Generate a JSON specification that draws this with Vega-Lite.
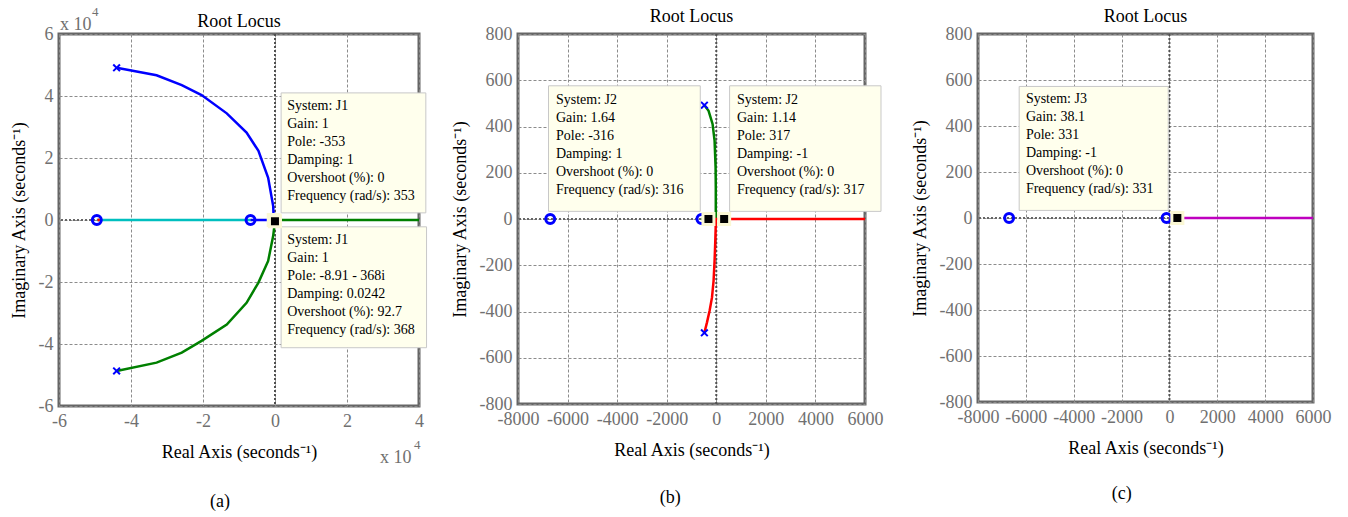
{
  "$schema": "https://vega.github.io/schema/vega-lite/v6.json",
  "padding": {"left": 8, "top": 4, "right": 0, "bottom": 0},
  "background": "#ffffff",
  "datasets": {
    "lociA": [
      {"branch": "J1 upper", "seq": 0, "re": -44000, "im": 49100},
      {"branch": "J1 upper", "seq": 1, "re": -32900, "im": 46700},
      {"branch": "J1 upper", "seq": 2, "re": -25900, "im": 43500},
      {"branch": "J1 upper", "seq": 3, "re": -20400, "im": 40300},
      {"branch": "J1 upper", "seq": 4, "re": -13400, "im": 34400},
      {"branch": "J1 upper", "seq": 5, "re": -7900, "im": 28200},
      {"branch": "J1 upper", "seq": 6, "re": -4600, "im": 22300},
      {"branch": "J1 upper", "seq": 7, "re": -1900, "im": 13600},
      {"branch": "J1 upper", "seq": 8, "re": -500, "im": 4500},
      {"branch": "J1 upper", "seq": 9, "re": -353, "im": 0},
      {"branch": "J1 upper", "seq": 10, "re": -6800, "im": 0},
      {"branch": "J1 lower", "seq": 0, "re": -44000, "im": -48700},
      {"branch": "J1 lower", "seq": 1, "re": -32900, "im": -46000},
      {"branch": "J1 lower", "seq": 2, "re": -25900, "im": -42800},
      {"branch": "J1 lower", "seq": 3, "re": -20400, "im": -39000},
      {"branch": "J1 lower", "seq": 4, "re": -13400, "im": -33700},
      {"branch": "J1 lower", "seq": 5, "re": -7900, "im": -26700},
      {"branch": "J1 lower", "seq": 6, "re": -4600, "im": -20200},
      {"branch": "J1 lower", "seq": 7, "re": -1900, "im": -13200},
      {"branch": "J1 lower", "seq": 8, "re": -500, "im": -5100},
      {"branch": "J1 lower", "seq": 9, "re": -8.91, "im": -368},
      {"branch": "J1 lower", "seq": 10, "re": 0, "im": 0},
      {"branch": "J1 lower", "seq": 11, "re": 40000, "im": 0},
      {"branch": "J1 real", "seq": 0, "re": -49500, "im": 0},
      {"branch": "J1 real", "seq": 1, "re": -6800, "im": 0}
    ],
    "lociB": [
      {"branch": "J2 upper", "seq": 0, "re": -480, "im": 492},
      {"branch": "J2 upper", "seq": 1, "re": -311, "im": 468},
      {"branch": "J2 upper", "seq": 2, "re": -150, "im": 411},
      {"branch": "J2 upper", "seq": 3, "re": -69, "im": 339},
      {"branch": "J2 upper", "seq": 4, "re": -28, "im": 223},
      {"branch": "J2 upper", "seq": 5, "re": -20, "im": 137},
      {"branch": "J2 upper", "seq": 6, "re": -20, "im": 50},
      {"branch": "J2 upper", "seq": 7, "re": -20, "im": 0},
      {"branch": "J2 upper", "seq": 8, "re": -316, "im": 0},
      {"branch": "J2 upper", "seq": 9, "re": -600, "im": 0},
      {"branch": "J2 lower", "seq": 0, "re": -480, "im": -492},
      {"branch": "J2 lower", "seq": 1, "re": -375, "im": -447},
      {"branch": "J2 lower", "seq": 2, "re": -270, "im": -397},
      {"branch": "J2 lower", "seq": 3, "re": -173, "im": -339},
      {"branch": "J2 lower", "seq": 4, "re": -109, "im": -267},
      {"branch": "J2 lower", "seq": 5, "re": -69, "im": -181},
      {"branch": "J2 lower", "seq": 6, "re": -40, "im": -94},
      {"branch": "J2 lower", "seq": 7, "re": -25, "im": -40},
      {"branch": "J2 lower", "seq": 8, "re": -20, "im": 0},
      {"branch": "J2 lower", "seq": 9, "re": 317, "im": 0},
      {"branch": "J2 lower", "seq": 10, "re": 6000, "im": 0}
    ],
    "lociC": [
      {"branch": "J3", "seq": 0, "re": 0, "im": 0},
      {"branch": "J3", "seq": 1, "re": 331, "im": 0},
      {"branch": "J3", "seq": 2, "re": 6000, "im": 0}
    ],
    "zerosA": [{"re": -49500, "im": 0}, {"re": -6800, "im": 0}],
    "zerosB": [{"re": -6700, "im": 0}, {"re": -600, "im": 0}],
    "zerosC": [{"re": -6700, "im": 0}, {"re": -120, "im": 0}],
    "polesA": [{"re": -44000, "im": 49100}, {"re": -44000, "im": -48700}],
    "polesB": [{"re": -480, "im": 492}, {"re": -480, "im": -492}],
    "cursorsA": [{"re": -353, "im": 0}, {"re": -8.91, "im": -368}],
    "cursorsB": [{"re": -316, "im": 0}, {"re": 317, "im": 0}],
    "cursorsC": [{"re": 331, "im": 0}]
  },
  "bounds": "flush",
  "spacing": 0,
  "hconcat": [
    {
      "width": 360,
      "height": 372,
      "layer": [
        {
          "data": {"values": [{}]},
          "mark": {"type": "rule", "color": "#505050", "strokeWidth": 2, "strokeDash": [2, 2]},
          "encoding": {"x": {"datum": 0, "type": "quantitative"}}
        },
        {
          "data": {"values": [{}]},
          "mark": {"type": "rule", "color": "#666666", "strokeWidth": 2, "strokeDash": [2, 2]},
          "encoding": {"y": {"datum": 0, "type": "quantitative"}}
        },
        {
          "data": {"name": "lociA"},
          "mark": {"type": "line", "strokeWidth": 2.5},
          "encoding": {
            "x": {"field": "re", "type": "quantitative",
              "scale": {"domain": [-60000, 40000], "nice": false, "zero": false},
              "axis": {"title": "Real Axis (seconds⁻¹)", "values": [-60000, -40000, -20000, 0, 20000, 40000], "labelExpr": "'' + datum.value / 10000"}},
            "y": {"field": "im", "type": "quantitative",
              "scale": {"domain": [-60000, 60000], "nice": false, "zero": false},
              "axis": {"title": "Imaginary Axis (seconds⁻¹)", "values": [-60000, -40000, -20000, 0, 20000, 40000, 60000], "labelExpr": "'' + datum.value / 10000"}},
            "color": {"field": "branch", "type": "nominal", "legend": null,
              "scale": {"domain": ["J1 upper", "J1 lower", "J1 real", "J2 upper", "J2 lower", "J3"], "range": ["#0000ff", "#008000", "#00bfbf", "#008000", "#ff0000", "#bf00bf"]}},
            "order": {"field": "seq", "type": "quantitative"}
          }
        },
        {
          "data": {"name": "zerosA"},
          "mark": {"type": "point", "shape": "circle", "filled": false, "color": "#0000ff", "strokeWidth": 3, "size": 80, "opacity": 1},
          "encoding": {
            "x": {"field": "re", "type": "quantitative"},
            "y": {"field": "im", "type": "quantitative"}
          }
        },
        {
          "data": {"values": [{"re": -49000, "im": 0}]},
          "mark": {"type": "point", "shape": "circle", "filled": true, "color": "#ff0000", "size": 8, "opacity": 1},
          "encoding": {
            "x": {"field": "re", "type": "quantitative"},
            "y": {"field": "im", "type": "quantitative"}
          }
        },
        {
          "data": {"name": "polesA"},
          "mark": {"type": "point", "shape": "M-1,-1L1,1M-1,1L1,-1", "filled": false, "color": "#0000ff", "strokeWidth": 2, "size": 45, "opacity": 1},
          "encoding": {
            "x": {"field": "re", "type": "quantitative"},
            "y": {"field": "im", "type": "quantitative"}
          }
        },
        {
          "data": {"values": [{"info": "System: J1\nGain: 1\nPole: -353\nDamping: 1\nOvershoot (%): 0\nFrequency (rad/s): 353"}]},
          "layer": [
            {
              "mark": {"type": "rect", "fill": "#ffffed", "stroke": "#c8c8c8", "strokeWidth": 1},
              "encoding": {
                "x": {"datum": 1700, "type": "quantitative"},
                "x2": {"datum": 41900},
                "y": {"datum": 41000, "type": "quantitative"},
                "y2": {"datum": 2300}
              }
            },
            {
              "mark": {"type": "text", "align": "left", "baseline": "top", "lineBreak": "\n", "lineHeight": 18, "fontSize": 14, "color": "#000000"},
              "encoding": {
                "x": {"datum": 3400, "type": "quantitative"},
                "y": {"datum": 38900, "type": "quantitative"},
                "text": {"field": "info", "type": "nominal"}
              }
            }
          ]
        },
        {
          "data": {"values": [{"info": "System: J1\nGain: 1\nPole: -8.91 - 368i\nDamping: 0.0242\nOvershoot (%): 92.7\nFrequency (rad/s): 368"}]},
          "layer": [
            {
              "mark": {"type": "rect", "fill": "#ffffed", "stroke": "#c8c8c8", "strokeWidth": 1},
              "encoding": {
                "x": {"datum": 1700, "type": "quantitative"},
                "x2": {"datum": 42100},
                "y": {"datum": -2200, "type": "quantitative"},
                "y2": {"datum": -41200}
              }
            },
            {
              "mark": {"type": "text", "align": "left", "baseline": "top", "lineBreak": "\n", "lineHeight": 18, "fontSize": 14, "color": "#000000"},
              "encoding": {
                "x": {"datum": 3400, "type": "quantitative"},
                "y": {"datum": -4350, "type": "quantitative"},
                "text": {"field": "info", "type": "nominal"}
              }
            }
          ]
        },
        {
          "data": {"name": "cursorsA"},
          "mark": {"type": "point", "shape": "square", "filled": true, "fill": "#000000", "stroke": "#fbf8d5", "strokeWidth": 3, "size": 121, "opacity": 1},
          "encoding": {
            "x": {"field": "re", "type": "quantitative"},
            "y": {"field": "im", "type": "quantitative"}
          }
        },
        {
          "data": {"values": [{}]},
          "mark": {"type": "text", "align": "center", "baseline": "middle", "fontSize": 18, "color": "#000000"},
          "encoding": {
            "x": {"datum": -10000, "type": "quantitative"},
            "y": {"datum": 63900, "type": "quantitative"},
            "text": {"value": "Root Locus"}
          }
        },
        {
          "data": {"values": [{}]},
          "mark": {"type": "text", "align": "left", "baseline": "middle", "fontSize": 18, "color": "#707070"},
          "encoding": {
            "x": {"datum": -59700, "type": "quantitative"},
            "y": {"datum": 62900, "type": "quantitative"},
            "text": {"value": "x 10"}
          }
        },
        {
          "data": {"values": [{}]},
          "mark": {"type": "text", "align": "left", "baseline": "middle", "fontSize": 13, "color": "#707070"},
          "encoding": {
            "x": {"datum": -50800, "type": "quantitative"},
            "y": {"datum": 67100, "type": "quantitative"},
            "text": {"value": "4"}
          }
        },
        {
          "data": {"values": [{}]},
          "mark": {"type": "text", "align": "left", "baseline": "middle", "fontSize": 18, "color": "#707070"},
          "encoding": {
            "x": {"datum": 29200, "type": "quantitative"},
            "y": {"datum": -76800, "type": "quantitative"},
            "text": {"value": "x 10"}
          }
        },
        {
          "data": {"values": [{}]},
          "mark": {"type": "text", "align": "left", "baseline": "middle", "fontSize": 13, "color": "#707070"},
          "encoding": {
            "x": {"datum": 38600, "type": "quantitative"},
            "y": {"datum": -72600, "type": "quantitative"},
            "text": {"value": "4"}
          }
        },
        {
          "data": {"values": [{}]},
          "mark": {"type": "text", "align": "center", "baseline": "middle", "fontSize": 18, "color": "#000000"},
          "encoding": {
            "x": {"datum": -15300, "type": "quantitative"},
            "y": {"datum": -90900, "type": "quantitative"},
            "text": {"value": "(a)"}
          }
        }
      ]
    },
    {
      "width": 99,
      "height": 10,
      "data": {"values": [{}]},
      "mark": {"type": "point", "opacity": 0},
      "view": {"stroke": null}
    },
    {
      "title": "Root Locus",
      "width": 347,
      "height": 370,
      "layer": [
        {
          "data": {"values": [{}]},
          "mark": {"type": "rule", "color": "#505050", "strokeWidth": 2, "strokeDash": [2, 2]},
          "encoding": {"x": {"datum": 0, "type": "quantitative"}}
        },
        {
          "data": {"values": [{}]},
          "mark": {"type": "rule", "color": "#666666", "strokeWidth": 2, "strokeDash": [2, 2]},
          "encoding": {"y": {"datum": 0, "type": "quantitative"}}
        },
        {
          "data": {"name": "lociB"},
          "mark": {"type": "line", "strokeWidth": 2.5},
          "encoding": {
            "x": {"field": "re", "type": "quantitative",
              "scale": {"domain": [-8000, 6000], "nice": false, "zero": false},
              "axis": {"title": "Real Axis (seconds⁻¹)", "values": [-8000, -6000, -4000, -2000, 0, 2000, 4000, 6000], "labelExpr": "'' + datum.value"}},
            "y": {"field": "im", "type": "quantitative",
              "scale": {"domain": [-800, 800], "nice": false, "zero": false},
              "axis": {"title": "Imaginary Axis (seconds⁻¹)", "values": [-800, -600, -400, -200, 0, 200, 400, 600, 800], "labelExpr": "'' + datum.value"}},
            "color": {"field": "branch", "type": "nominal", "legend": null,
              "scale": {"domain": ["J1 upper", "J1 lower", "J1 real", "J2 upper", "J2 lower", "J3"], "range": ["#0000ff", "#008000", "#00bfbf", "#008000", "#ff0000", "#bf00bf"]}},
            "order": {"field": "seq", "type": "quantitative"}
          }
        },
        {
          "data": {"name": "zerosB"},
          "mark": {"type": "point", "shape": "circle", "filled": false, "color": "#0000ff", "strokeWidth": 3, "size": 80, "opacity": 1},
          "encoding": {
            "x": {"field": "re", "type": "quantitative"},
            "y": {"field": "im", "type": "quantitative"}
          }
        },
        {
          "data": {"name": "polesB"},
          "mark": {"type": "point", "shape": "M-1,-1L1,1M-1,1L1,-1", "filled": false, "color": "#0000ff", "strokeWidth": 2, "size": 45, "opacity": 1},
          "encoding": {
            "x": {"field": "re", "type": "quantitative"},
            "y": {"field": "im", "type": "quantitative"}
          }
        },
        {
          "data": {"values": [{"info": "System: J2\nGain: 1.64\nPole: -316\nDamping: 1\nOvershoot (%): 0\nFrequency (rad/s): 316"}]},
          "layer": [
            {
              "mark": {"type": "rect", "fill": "#ffffed", "stroke": "#c8c8c8", "strokeWidth": 1},
              "encoding": {
                "x": {"datum": -6770, "type": "quantitative"},
                "x2": {"datum": -646},
                "y": {"datum": 576, "type": "quantitative"},
                "y2": {"datum": 33}
              }
            },
            {
              "mark": {"type": "text", "align": "left", "baseline": "top", "lineBreak": "\n", "lineHeight": 18, "fontSize": 14, "color": "#000000"},
              "encoding": {
                "x": {"datum": -6467, "type": "quantitative"},
                "y": {"datum": 546, "type": "quantitative"},
                "text": {"field": "info", "type": "nominal"}
              }
            }
          ]
        },
        {
          "data": {"values": [{"info": "System: J2\nGain: 1.14\nPole: 317\nDamping: -1\nOvershoot (%): 0\nFrequency (rad/s): 317"}]},
          "layer": [
            {
              "mark": {"type": "rect", "fill": "#ffffed", "stroke": "#c8c8c8", "strokeWidth": 1},
              "encoding": {
                "x": {"datum": 537, "type": "quantitative"},
                "x2": {"datum": 6645},
                "y": {"datum": 576, "type": "quantitative"},
                "y2": {"datum": 33}
              }
            },
            {
              "mark": {"type": "text", "align": "left", "baseline": "top", "lineBreak": "\n", "lineHeight": 18, "fontSize": 14, "color": "#000000"},
              "encoding": {
                "x": {"datum": 835, "type": "quantitative"},
                "y": {"datum": 546, "type": "quantitative"},
                "text": {"field": "info", "type": "nominal"}
              }
            }
          ]
        },
        {
          "data": {"name": "cursorsB"},
          "mark": {"type": "point", "shape": "square", "filled": true, "fill": "#000000", "stroke": "#fbf8d5", "strokeWidth": 3, "size": 121, "opacity": 1},
          "encoding": {
            "x": {"field": "re", "type": "quantitative"},
            "y": {"field": "im", "type": "quantitative"}
          }
        },
        {
          "data": {"values": [{}]},
          "mark": {"type": "text", "align": "center", "baseline": "middle", "fontSize": 18, "color": "#000000"},
          "encoding": {
            "x": {"datum": -1856, "type": "quantitative"},
            "y": {"datum": -1205, "type": "quantitative"},
            "text": {"value": "(b)"}
          }
        }
      ]
    },
    {
      "width": 113,
      "height": 10,
      "data": {"values": [{}]},
      "mark": {"type": "point", "opacity": 0},
      "view": {"stroke": null}
    },
    {
      "title": "Root Locus",
      "width": 335,
      "height": 368,
      "layer": [
        {
          "data": {"values": [{}]},
          "mark": {"type": "rule", "color": "#505050", "strokeWidth": 2, "strokeDash": [2, 2]},
          "encoding": {"x": {"datum": 0, "type": "quantitative"}}
        },
        {
          "data": {"values": [{}]},
          "mark": {"type": "rule", "color": "#666666", "strokeWidth": 2, "strokeDash": [2, 2]},
          "encoding": {"y": {"datum": 0, "type": "quantitative"}}
        },
        {
          "data": {"name": "lociC"},
          "mark": {"type": "line", "strokeWidth": 2.5},
          "encoding": {
            "x": {"field": "re", "type": "quantitative",
              "scale": {"domain": [-8000, 6000], "nice": false, "zero": false},
              "axis": {"title": "Real Axis (seconds⁻¹)", "values": [-8000, -6000, -4000, -2000, 0, 2000, 4000, 6000], "labelExpr": "'' + datum.value"}},
            "y": {"field": "im", "type": "quantitative",
              "scale": {"domain": [-800, 800], "nice": false, "zero": false},
              "axis": {"title": "Imaginary Axis (seconds⁻¹)", "values": [-800, -600, -400, -200, 0, 200, 400, 600, 800], "labelExpr": "'' + datum.value"}},
            "color": {"field": "branch", "type": "nominal", "legend": null,
              "scale": {"domain": ["J1 upper", "J1 lower", "J1 real", "J2 upper", "J2 lower", "J3"], "range": ["#0000ff", "#008000", "#00bfbf", "#008000", "#ff0000", "#bf00bf"]}},
            "order": {"field": "seq", "type": "quantitative"}
          }
        },
        {
          "data": {"name": "zerosC"},
          "mark": {"type": "point", "shape": "circle", "filled": false, "color": "#0000ff", "strokeWidth": 3, "size": 80, "opacity": 1},
          "encoding": {
            "x": {"field": "re", "type": "quantitative"},
            "y": {"field": "im", "type": "quantitative"}
          }
        },
        {
          "data": {"values": [{"info": "System: J3\nGain: 38.1\nPole: 331\nDamping: -1\nOvershoot (%): 0\nFrequency (rad/s): 331"}]},
          "layer": [
            {
              "mark": {"type": "rect", "fill": "#ffffed", "stroke": "#c8c8c8", "strokeWidth": 1},
              "encoding": {
                "x": {"datum": -6279, "type": "quantitative"},
                "x2": {"datum": -50},
                "y": {"datum": 572, "type": "quantitative"},
                "y2": {"datum": 33}
              }
            },
            {
              "mark": {"type": "text", "align": "left", "baseline": "top", "lineBreak": "\n", "lineHeight": 18, "fontSize": 14, "color": "#000000"},
              "encoding": {
                "x": {"datum": -5999, "type": "quantitative"},
                "y": {"datum": 546, "type": "quantitative"},
                "text": {"field": "info", "type": "nominal"}
              }
            }
          ]
        },
        {
          "data": {"name": "cursorsC"},
          "mark": {"type": "point", "shape": "square", "filled": true, "fill": "#000000", "stroke": "#fbf8d5", "strokeWidth": 3, "size": 121, "opacity": 1},
          "encoding": {
            "x": {"field": "re", "type": "quantitative"},
            "y": {"field": "im", "type": "quantitative"}
          }
        },
        {
          "data": {"values": [{}]},
          "mark": {"type": "text", "align": "center", "baseline": "middle", "fontSize": 18, "color": "#000000"},
          "encoding": {
            "x": {"datum": -1994, "type": "quantitative"},
            "y": {"datum": -1199, "type": "quantitative"},
            "text": {"value": "(c)"}
          }
        }
      ]
    }
  ],
  "config": {
    "font": "Liberation Serif",
    "view": {"stroke": "#666666", "strokeWidth": 3},
    "title": {"fontSize": 18, "fontWeight": "normal", "color": "#000000", "offset": -1, "font": "Liberation Serif"},
    "axis": {
      "labelFont": "Liberation Serif",
      "titleFont": "Liberation Serif",
      "labelFontSize": 18,
      "labelColor": "#707070",
      "titleFontSize": 18,
      "titleFontWeight": "normal",
      "titleColor": "#000000",
      "grid": true,
      "gridColor": "#8c8c8c",
      "gridDash": [3, 2],
      "gridWidth": 1,
      "gridOpacity": 1,
      "domain": false,
      "ticks": false,
      "labelPadding": 6,
      "labelFlush": false,
      "labelOverlap": false,
      "labelBound": false
    },
    "axisX": {"titlePadding": 13},
    "axisY": {"titlePadding": 10}
  }
}
